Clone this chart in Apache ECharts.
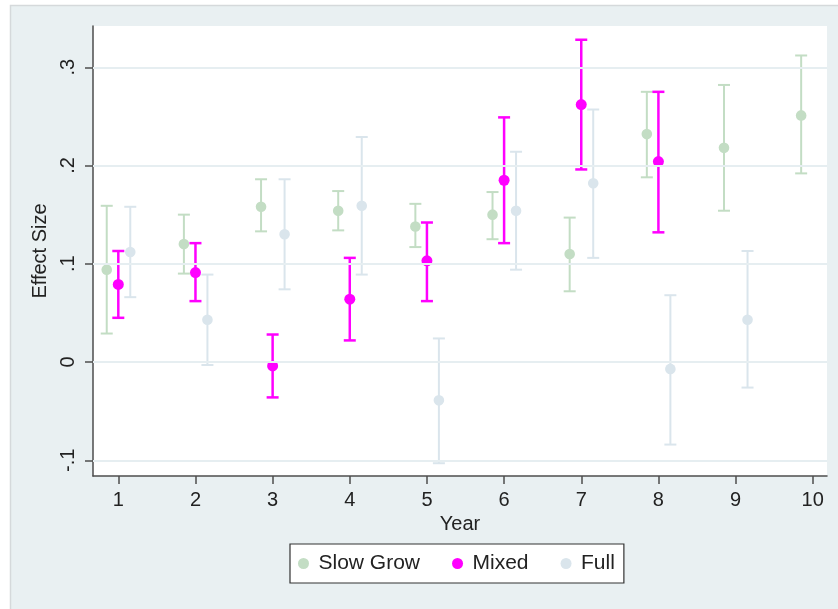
<!DOCTYPE html>
<html>
<head>
<meta charset="utf-8">
<script src="https://cdn.jsdelivr.net/npm/echarts@6/dist/echarts.min.js"></script>
<style>
  html, body { margin: 0; padding: 0; background: #fff; }
  #main { width: 838px; height: 609px; }
</style>
</head>
<body>
<div id="main"></div>
<script>
// effect sizes by year, with 95% CI bounds
const years = [1, 2, 3, 4, 5, 6, 7, 8, 9, 10];
const slowEst = [0.094, 0.120, 0.158, 0.154, 0.138, 0.150, 0.110, 0.232, 0.218, 0.251];
const slowLo  = [0.029, 0.090, 0.133, 0.134, 0.117, 0.125, 0.072, 0.188, 0.154, 0.192];
const slowHi  = [0.159, 0.150, 0.186, 0.174, 0.161, 0.173, 0.147, 0.275, 0.282, 0.312];

const mixedYears = [1, 2, 3, 4, 5, 6, 7, 8];
const mixedEst = [0.079, 0.091, -0.004, 0.064, 0.103, 0.185, 0.262, 0.204];
const mixedLo  = [0.045, 0.062, -0.036, 0.022, 0.062, 0.121, 0.196, 0.132];
const mixedHi  = [0.113, 0.121, 0.028, 0.106, 0.142, 0.249, 0.328, 0.275];

const fullYears = [1, 2, 3, 4, 5, 6, 7, 8, 9];
const fullEst = [0.112, 0.043, 0.130, 0.159, -0.039, 0.154, 0.182, -0.007, 0.043];
const fullLo  = [0.066, -0.003, 0.074, 0.089, -0.103, 0.094, 0.106, -0.084, -0.026];
const fullHi  = [0.158, 0.089, 0.186, 0.229, 0.024, 0.214, 0.257, 0.068, 0.113];

const xTicks = [1, 2, 3, 4, 5, 6, 7, 8, 9, 10];
const yTicks = [-0.1, 0, 0.1, 0.2, 0.3];
const yTickLabels = ['-.1', '0', '.1', '.2', '.3'];

const FONT = "'Liberation Sans', Arial, sans-serif";

const chart = echarts.init(document.getElementById('main'));

function rows(xs, est, lo, hi) {
  return xs.map((x, i) => [x, lo[i], hi[i], est[i]]);
}

// draws one error bar (whisker + caps + dot), shifted sideways by offset years
function errBar(offset, color, lw, r) {
  return function (params, api) {
    const x = api.value(0) + offset;
    const lo = api.coord([x, api.value(1)]);
    const hi = api.coord([x, api.value(2)]);
    const mid = api.coord([x, api.value(3)]);
    const cap = 6;
    const st = { stroke: color, lineWidth: lw };
    return {
      type: 'group',
      children: [
        { type: 'line', shape: { x1: hi[0], y1: hi[1], x2: lo[0], y2: lo[1] }, style: st },
        { type: 'line', shape: { x1: hi[0] - cap, y1: hi[1], x2: hi[0] + cap, y2: hi[1] }, style: st },
        { type: 'line', shape: { x1: lo[0] - cap, y1: lo[1], x2: lo[0] + cap, y2: lo[1] }, style: st },
        { type: 'circle', shape: { cx: mid[0], cy: mid[1], r: r }, style: { fill: color } }
      ]
    };
  };
}

const GREEN = '#c3ddc4';
const MAGENTA = '#ff00ff';
const PALE = '#dae5ec';

chart.setOption({
  animation: false,
  backgroundColor: '#fff',
  graphic: [{
    type: 'rect', z: -100, silent: true,
    shape: { x: 10.5, y: 5.5, width: 840, height: 620 },
    style: { fill: '#e9f0f2', stroke: '#d5d9db', lineWidth: 1.5 }
  }],
  grid: {
    left: 93, right: 11, top: 26, bottom: 133,
    show: true, backgroundColor: '#fff', borderWidth: 0
  },
  legend: {
    left: 290, top: 544,
    data: ['Slow Grow', 'Mixed', 'Full'],
    icon: 'circle',
    itemWidth: 20, itemHeight: 11, itemGap: 32,
    padding: [9, 9, 9, 8],
    backgroundColor: '#fff', borderColor: '#333', borderWidth: 1.2,
    textStyle: { fontFamily: FONT, fontSize: 21, color: '#222' }
  },
  xAxis: {
    type: 'value', min: 0.672, max: 10.185,
    name: 'Year', nameLocation: 'middle', nameGap: 31,
    nameTextStyle: { fontFamily: FONT, fontSize: 20, color: '#222' },
    axisLine: { onZero: false, lineStyle: { color: '#4d4d4d', width: 1.5 } },
    axisTick: { show: true, length: 8, customValues: xTicks, lineStyle: { color: '#4d4d4d', width: 1.5 } },
    axisLabel: { customValues: xTicks, margin: 14, fontFamily: FONT, fontSize: 20, color: '#222' },
    splitLine: { show: false }
  },
  yAxis: {
    type: 'value', min: -0.116, max: 0.342,
    name: 'Effect Size', nameLocation: 'middle', nameGap: 38, nameRotate: 90,
    nameTextStyle: { fontFamily: FONT, fontSize: 20, color: '#222' },
    axisLine: { show: true, onZero: false, lineStyle: { color: '#4d4d4d', width: 1.5 } },
    axisTick: { show: true, length: 8, customValues: yTicks, lineStyle: { color: '#4d4d4d', width: 1.5 } },
    axisLabel: {
      customValues: yTicks, rotate: 90, margin: 15,
      fontFamily: FONT, fontSize: 20, color: '#222',
      formatter: v => {
        const i = yTicks.findIndex(t => Math.abs(t - v) < 1e-9);
        return i >= 0 ? yTickLabels[i] : '';
      }
    },
    splitLine: { show: false }
  },
  series: [
    {
      type: 'line', data: [], z: 1, silent: true,
      markLine: {
        silent: true, symbol: ['none', 'none'], label: { show: false },
        lineStyle: { color: '#e6eef1', width: 2, type: 'solid' },
        data: yTicks.map(v => ({ yAxis: v }))
      }
    },
    {
      name: 'Slow Grow', type: 'custom', z: 3,
      itemStyle: { color: GREEN },
      renderItem: errBar(-0.15, GREEN, 2, 5.3),
      data: rows(years, slowEst, slowLo, slowHi)
    },
    {
      name: 'Mixed', type: 'custom', z: 4,
      itemStyle: { color: MAGENTA },
      renderItem: errBar(0, MAGENTA, 2.5, 5.5),
      data: rows(mixedYears, mixedEst, mixedLo, mixedHi)
    },
    {
      name: 'Full', type: 'custom', z: 3,
      itemStyle: { color: PALE },
      renderItem: errBar(0.155, PALE, 2, 5.3),
      data: rows(fullYears, fullEst, fullLo, fullHi)
    }
  ]
});
</script>
</body>
</html>
